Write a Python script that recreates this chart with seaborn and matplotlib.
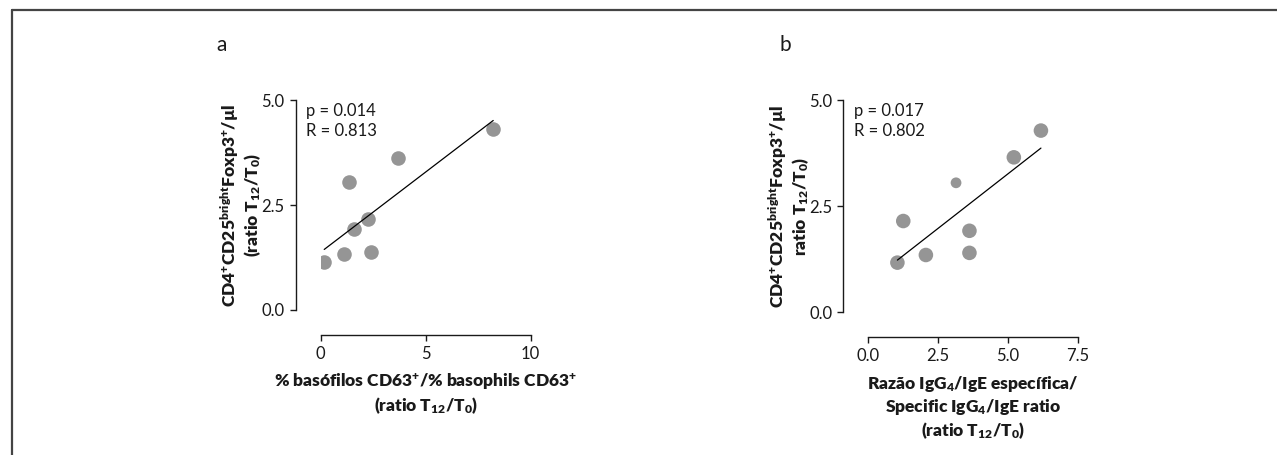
import numpy as np
import pandas as pd
import seaborn as sns
import matplotlib.pyplot as plt
from matplotlib.lines import Line2D

# panel a: basophils CD63+ ratio vs Treg ratio
a_x = [0.17, 1.11, 1.33, 1.57, 2.27, 2.38, 3.67, 8.22]
a_y = [1.14, 1.34, 3.05, 1.92, 2.16, 1.37, 3.63, 4.31]
a_stats = "p = 0.014\nR = 0.813"

# panel b: specific IgG4/IgE ratio vs Treg ratio
b_x = [1.04, 1.25, 2.06, 3.14, 3.62, 3.62, 5.21, 6.18]
b_y = [1.17, 2.15, 1.35, 3.05, 1.92, 1.40, 3.65, 4.28]
b_stats = "p = 0.017\nR = 0.802"

a_xticks = [0, 5, 10]
a_xticklabels = ["0", "5", "10"]
b_xticks = [0.0, 2.5, 5.0, 7.5]
b_xticklabels = ["0.0", "2.5", "5.0", "7.5"]
yticks = [0.0, 2.5, 5.0]
yticklabels = ["0.0", "2.5", "5.0"]

sns.set_theme(style="ticks")
plt.rcParams['font.family'] = ['Lato', 'DejaVu Sans']
plt.rcParams['mathtext.fontset'] = 'custom'
plt.rcParams['mathtext.rm'] = 'Lato:heavy'
plt.rcParams['mathtext.it'] = 'Lato:heavy'
plt.rcParams['mathtext.bf'] = 'Lato:heavy'

ylab_top = r"CD4$^{+}$CD25$^{\mathrm{bright}}$Foxp3$^{+}$/µl"
ratio = r"ratio T$_{12}$/T$_{0}$)"

ink = "#1a1a1a"
dot = "#959595"

fig = plt.figure(figsize=(12.77, 4.55), dpi=100)
ax_a = fig.add_axes([0.2511, 0.3187, 0.1644, 0.4615])
ax_b = fig.add_axes([0.6800, 0.3136, 0.1640, 0.4666])


def draw_panel(ax, x, y, sizes, stats, xlim, xticks, xticklabels):
    df = pd.DataFrame({"x": x, "y": y})
    sns.regplot(data=df, x="x", y="y", ax=ax, ci=None, truncate=True,
                scatter_kws={"s": sizes, "color": dot, "alpha": 1, "linewidths": 0},
                line_kws={"color": "black", "lw": 0.9})
    ax.set_xlim(*xlim)
    ax.set_ylim(0, 5)
    ax.set_xticks(xticks)
    ax.set_xticklabels(xticklabels)
    ax.set_yticks(yticks)
    ax.set_yticklabels(yticklabels)
    ax.tick_params(labelsize=12, length=4, width=1, color=ink, labelcolor=ink, pad=4)
    ax.text(-0.07, 0.985, stats, transform=ax.transAxes, fontsize=12,
            va="top", ha="left", color=ink, linespacing=1.3)
    sns.despine(ax=ax, offset=18, trim=True)
    for s in ["left", "bottom"]:
        ax.spines[s].set_color(ink)
        ax.spines[s].set_linewidth(1)


draw_panel(ax_a, a_x, a_y, 110, a_stats, (0, 10), a_xticks, a_xticklabels)
draw_panel(ax_b, b_x, b_y, [110, 110, 110, 60, 110, 110, 110, 110], b_stats,
           (0, 7.5), b_xticks, b_xticklabels)

lab = dict(fontsize=12.5, fontweight="heavy", color=ink)
ax_a.set_ylabel(ylab_top + "\n(" + ratio, labelpad=-1, linespacing=1.05, **lab)
ax_b.set_ylabel(ylab_top + "\n" + ratio, labelpad=-1, linespacing=1.05, **lab)
ax_a.set_xlabel(r"% basófilos CD63$^{+}$/% basophils CD63$^{+}$" + "\n(" + ratio,
                labelpad=7, linespacing=1.2, **lab)
ax_b.set_xlabel(r"Razão IgG$_{4}$/IgE específica/" + "\n" +
                r"Specific IgG$_{4}$/IgE ratio" + "\n(" + ratio,
                labelpad=7, linespacing=1.2, **lab)

fig.text(222 / 1277, 1 - 45 / 455, "a", fontsize=15, ha="center", va="center", color=ink)
fig.text(785 / 1277, 1 - 45 / 455, "b", fontsize=15, ha="center", va="center", color=ink)

# page frame (top and left rules)
fig.add_artist(Line2D([12 / 1277, 1.0], [1 - 10 / 455, 1 - 10 / 455],
                      transform=fig.transFigure, color="#444444", lw=1.6))
fig.add_artist(Line2D([12 / 1277, 12 / 1277], [0, 1 - 10 / 455],
                      transform=fig.transFigure, color="#444444", lw=1.6))

fig.savefig("out.png", dpi=100)
